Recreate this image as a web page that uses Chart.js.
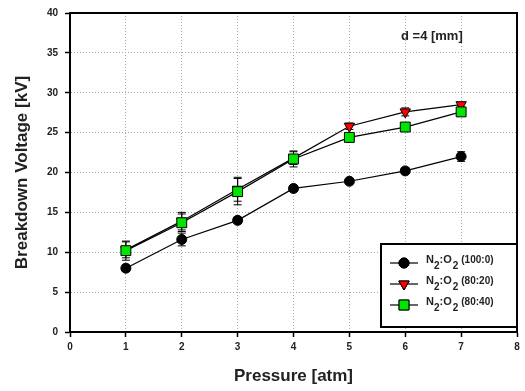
<!DOCTYPE html>
<html>
<head>
<meta charset="utf-8">
<script src="https://cdn.jsdelivr.net/npm/chart.js@4"></script>
<style>
  html, body { margin: 0; padding: 0; background: #fff; }
  #wrap { width: 525px; height: 391px; }
</style>
</head>
<body>
<div id="wrap"><canvas id="grafik" width="525" height="391"></canvas></div>
<script>
// Data
const tekanan = [1, 2, 3, 4, 5, 6, 7];
const v100_0 = [8.0, 11.6, 14.0, 18.0, 18.9, 20.2, 22.0];
const v80_20 = [10.3, 13.9, 17.9, 21.8, 25.8, 27.6, 28.5];
const v80_40 = [10.2, 13.7, 17.6, 21.7, 24.4, 25.7, 27.6];
const err100_0 = [0.4, 0.8, 0.4, 0.3, 0.3, 0.3, 0.6];
const err80_20 = [1.0, 1.1, 1.5, 0.8, 0.4, 0.5, 0.3];
const err80_40 = [1.2, 1.1, 1.65, 1.0, 0.3, 0.3, 0.3];
const xTicks = [0, 1, 2, 3, 4, 5, 6, 7, 8];
const yTicks = [0, 5, 10, 15, 20, 25, 30, 35, 40];
const legendLabels = ["(100:0)", "(80:20)", "(80:40)"];

const teks = "#222";
const fam = "Arial, 'Liberation Sans'";
const toXY = arr => arr.map((v, i) => ({ x: tekanan[i], y: v }));

// Error bar digambar sebelum marker
const errorBars = {
  id: "errorBars",
  beforeDatasetsDraw(chart) {
    const { ctx, scales: { x, y } } = chart;
    ctx.save();
    ctx.strokeStyle = "#000";
    ctx.lineWidth = 1;
    chart.data.datasets.forEach(ds => {
      ds.data.forEach((p, i) => {
        const e = ds.errors[i];
        const px = x.getPixelForValue(p.x);
        const top = y.getPixelForValue(p.y + e);
        const bot = y.getPixelForValue(p.y - e);
        ctx.beginPath();
        ctx.moveTo(px, top); ctx.lineTo(px, bot);
        ctx.moveTo(px - 4, top); ctx.lineTo(px + 4, top);
        ctx.moveTo(px - 4, bot); ctx.lineTo(px + 4, bot);
        ctx.stroke();
      });
    });
    ctx.restore();
  }
};

// Kotak plot, legenda dan keterangan jarak
const hiasan = {
  id: "hiasan",
  afterDraw(chart) {
    const { ctx, chartArea: a } = chart;
    ctx.save();
    ctx.strokeStyle = "#000";
    ctx.lineWidth = 2;
    ctx.strokeRect(a.left, a.top, a.right - a.left, a.bottom - a.top);

    // keterangan
    ctx.fillStyle = teks;
    ctx.font = "bold 13px " + fam;
    ctx.textBaseline = "middle";
    ctx.textAlign = "left";
    ctx.fillText("d =4 [mm]", 401, 36);

    // legenda
    const lx = 381, ly = 244, lw = 136, lh = 83;
    ctx.fillStyle = "#fff";
    ctx.fillRect(lx, ly, lw, lh);
    ctx.lineWidth = 2;
    ctx.strokeRect(lx, ly, lw, lh);
    const rows = [263, 284, 305];
    chart.data.datasets.slice().sort((p, q) => p.legendIdx - q.legendIdx).forEach((ds, i) => {
      const ry = rows[i];
      ctx.strokeStyle = "#000";
      ctx.lineWidth = 1.2;
      ctx.beginPath();
      ctx.moveTo(390, ry); ctx.lineTo(418, ry);
      ctx.stroke();
      ctx.lineWidth = 1;
      ctx.fillStyle = ds.pointBackgroundColor;
      Chart.helpers.drawPoint(ctx, {
        pointStyle: ds.pointStyle, rotation: ds.pointRotation || 0,
        radius: ds.pointRadius, borderWidth: 1
      }, 404, ry);
      ctx.fill();
      ctx.stroke();

      ctx.fillStyle = teks;
      ctx.textAlign = "left";
      let tx = 426;
      const big = "bold 11px " + fam;
      const small = "bold 10px " + fam;
      ctx.font = big; ctx.fillText("N", tx, ry - 3); tx += ctx.measureText("N").width;
      ctx.font = small; ctx.fillText("2", tx, ry + 3); tx += ctx.measureText("2").width;
      ctx.font = big; ctx.fillText(":O", tx, ry - 3); tx += ctx.measureText(":O").width + 1;
      ctx.font = small; ctx.fillText("2", tx, ry + 3); tx += ctx.measureText("2").width + 3;
      ctx.font = "bold 10px " + fam;
      ctx.fillText(legendLabels[i], tx, ry - 3);
    });
    ctx.restore();
  }
};

const gridColor = max => c => (c.tick && (c.tick.value === 0 || c.tick.value === max)) ? "rgba(0,0,0,0)" : "#a8a8a8";

const ctx = document.getElementById("grafik").getContext("2d");
new Chart(ctx, {
  type: "line",
  data: {
    datasets: [
      {
        label: "N2:O2 (80:40)", data: toXY(v80_40), errors: err80_40, legendIdx: 2, order: 0,
        borderColor: "#000", borderWidth: 1.2, pointStyle: "rect", pointRadius: 7,
        pointBackgroundColor: "#00e600", pointBorderColor: "#000", pointBorderWidth: 1
      },
      {
        label: "N2:O2 (80:20)", data: toXY(v80_20), errors: err80_20, legendIdx: 1, order: 1,
        borderColor: "#000", borderWidth: 1.2, pointStyle: "triangle", pointRotation: 180, pointRadius: 6,
        pointBackgroundColor: "#ff0000", pointBorderColor: "#000", pointBorderWidth: 1
      },
      {
        label: "N2:O2 (100:0)", data: toXY(v100_0), errors: err100_0, legendIdx: 0, order: 2,
        borderColor: "#000", borderWidth: 1.2, pointStyle: "circle", pointRadius: 5,
        pointBackgroundColor: "#000", pointBorderColor: "#000", pointBorderWidth: 1
      }
    ]
  },
  options: {
    responsive: false,
    animation: false,
    layout: { padding: { top: 12, right: 7, left: 0, bottom: 0 } },
    plugins: { legend: { display: false }, tooltip: { enabled: false } },
    scales: {
      x: {
        type: "linear", min: 0, max: 8,
        afterBuildTicks: s => { s.ticks = xTicks.map(v => ({ value: v })); },
        afterFit: s => { s.height = 59; },
        grid: { color: gridColor(8), lineWidth: 1, tickColor: "#000", tickLength: 5, tickWidth: 1.5 },
        border: { color: "#000", width: 2, dash: [1, 2] },
        ticks: { color: teks, font: { family: fam, size: 10, weight: "bold" }, padding: 4, maxRotation: 0 },
        title: { display: true, text: "Pressure [atm]", color: teks,
          font: { family: fam, size: 17, weight: "bold" }, padding: { top: 0, bottom: 4 } }
      },
      y: {
        type: "linear", min: 0, max: 40,
        afterBuildTicks: s => { s.ticks = yTicks.map(v => ({ value: v })); },
        afterFit: s => { s.width = 70; },
        grid: { color: gridColor(40), lineWidth: 1, tickColor: "#000", tickLength: 5, tickWidth: 1.5 },
        border: { color: "#000", width: 2, dash: [1, 2] },
        ticks: { color: teks, font: { family: fam, size: 10, weight: "bold" }, padding: 7 },
        title: { display: true, text: "Breakdown Voltage [kV]", color: teks,
          font: { family: fam, size: 17, weight: "bold" }, padding: { top: 12, bottom: 0 } }
      }
    }
  },
  plugins: [errorBars, hiasan]
});
</script>
</body>
</html>
